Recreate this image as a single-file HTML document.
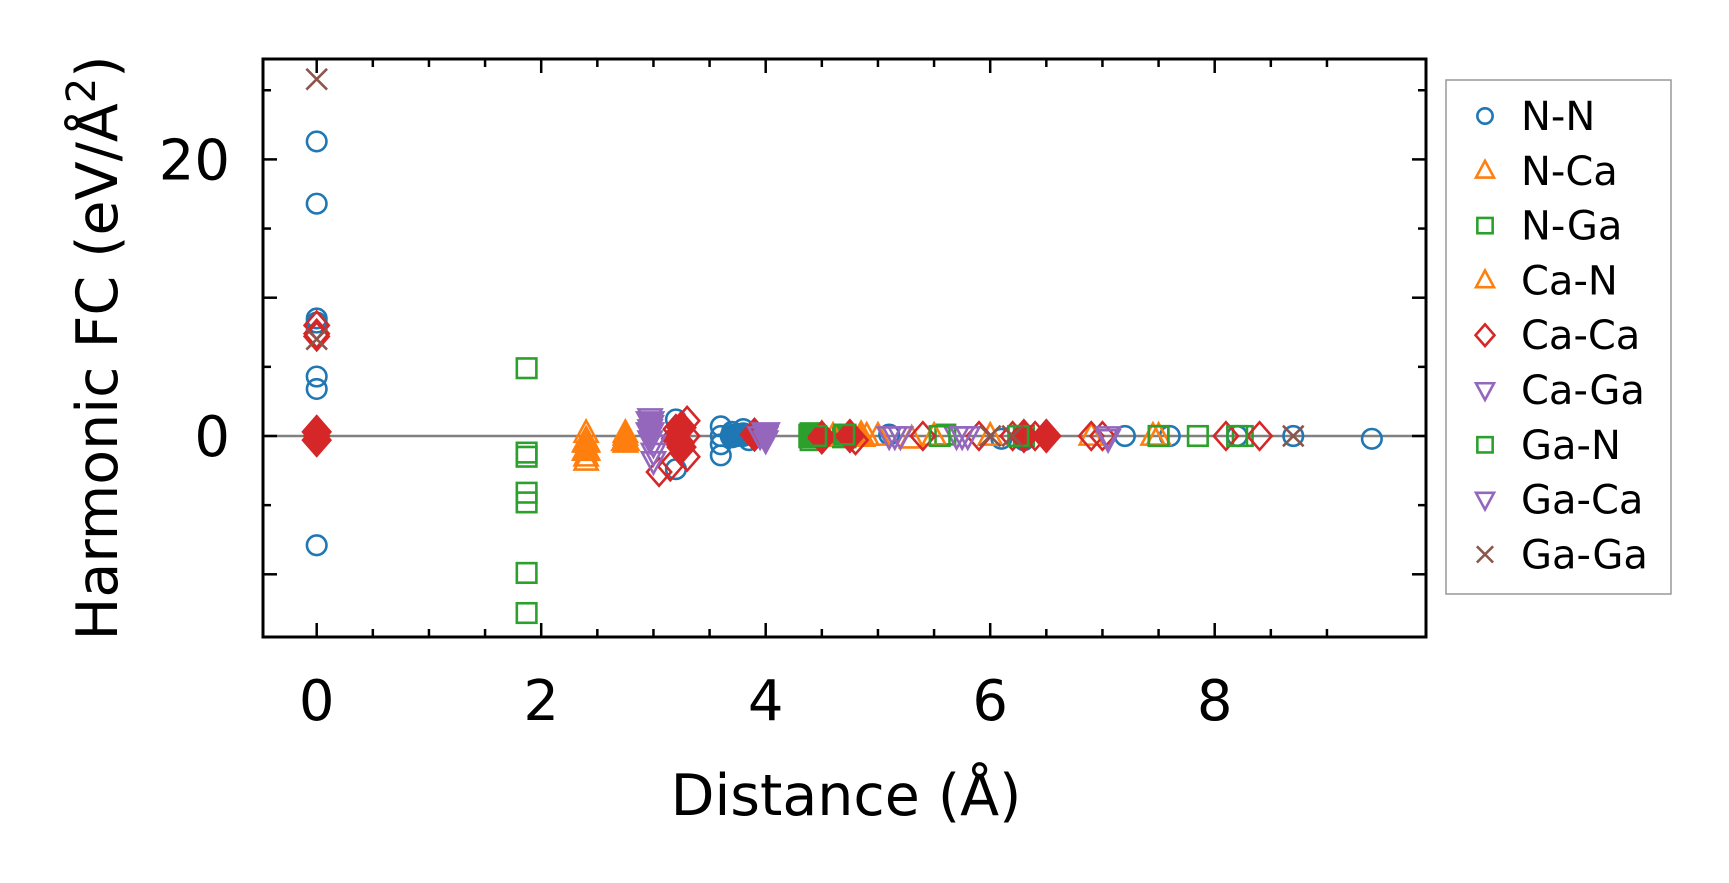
<!DOCTYPE html>
<html><head><meta charset="utf-8"><style>
html,body{margin:0;padding:0;background:#fff;}
svg{display:block;font-family:"DejaVu Sans","Liberation Sans",sans-serif;}
</style></head><body>
<svg id="chart" width="1729" height="883" viewBox="0 0 1729 883" xmlns="http://www.w3.org/2000/svg">
<rect width="1729" height="883" fill="#fff"/>
<g id="marks"></g>
<g id="axes"></g>
<g id="legend"></g>
</svg>
<script>
const xTicks=[0,2,4,6,8];
const yTicks=[0,20];
const seriesNames=["N-N","N-Ca","N-Ga","Ca-N","Ca-Ca","Ca-Ga","Ga-N","Ga-Ca","Ga-Ga"];
const nnPts=[[0,21.3],[0,16.8],[0,8.5],[0,8.2],[0,4.3],[0,3.4],[0,-7.9],[3.2,-2.4],[3.2,1.2],[3.6,0.7],[3.6,-1.4],[3.6,0],[3.6,-0.6],[3.7,0.3],[3.75,0],[3.8,0.5],[3.85,-0.3],[5.1,0.1],[6.1,-0.2],[6.3,-0.3],[7.2,0],[7.6,0],[8.2,0],[8.7,0],[9.4,-0.2]];
const nCaPts=[[2.4,0.2],[2.4,-0.5],[2.4,-1],[2.4,-1.5],[2.4,-1.8],[2.75,0.2],[2.75,-0.5],[4.5,0],[4.9,0],[5.3,-0.2],[6.9,0],[7.5,0]];
const nGaPts=[[1.87,4.9],[1.87,-1.2],[1.87,-1.5],[1.87,-4.1],[1.87,-4.8],[1.87,-9.9],[1.87,-12.8],[4.4,0.2],[4.4,-0.3],[4.7,0],[5.6,0.1],[6.3,0],[7.5,0],[7.85,0],[8.25,0]];
const caNPts=[[2.4,-0.3],[2.4,-1.1],[2.75,0],[4.6,0],[5.0,0],[5.5,0],[6.0,0],[7.45,0]];
const caCaPts=[[0,8],[0,7.4],[0,7.2],[0,0.4],[0,-0.4],[0,0],[3.05,-2.6],[3.15,-2.2],[3.3,1.1],[3.3,-1.5],[3.2,0.5],[3.25,-0.5],[3.2,0],[3.3,0],[3.9,0],[4.5,0],[4.8,-0.3],[5.4,0],[5.9,0],[6.2,0],[6.3,0],[6.4,0],[6.5,0],[6.9,0],[7.0,0],[8.1,0],[8.4,0]];
const caGaPts=[[2.97,1.3],[2.97,0.5],[2.97,-0.3],[3.0,-1.2],[3.0,-1.8],[4.0,0],[4.0,-0.3],[5.1,0],[5.2,0],[5.7,0],[5.8,0],[7.05,-0.2]];
const gaNPts=[[4.45,0],[4.7,0.1],[5.55,0],[6.25,0],[7.5,0],[8.2,0]];
const gaCaPts=[[2.98,0.8],[3.0,-0.6],[3.95,0],[5.15,0],[5.75,0],[7.05,0]];
const gaGaPts=[[0,25.8],[0,7],[6.0,0],[6.2,0],[8.7,0]];
// dense overlapping clusters (render filled)
const caCaCluster=[[0,0.3],[0,-0.3],[3.25,0.6],[3.25,-0.8],[3.2,-0.2],[3.9,0.1],[4.5,-0.1],[4.75,0],[6.3,0],[6.5,0]];
const nCaCluster=[[2.4,-0.4],[2.4,-1.0],[2.75,-0.3],[4.5,0],[4.85,0]];
const nnCluster=[[3.7,0],[3.8,0.1]];
const caGaCluster=[[2.97,1.0],[2.97,0.2],[4.0,0.2]];
const nGaCluster=[[4.4,0],[4.7,0]];

const X0=316.7,XU=112.25,Y0=436,YU=13.83;
const L=263,R=1426,T=59,B=637;
const sx=v=>X0+v*XU, sy=v=>Y0-v*YU;
const NS="http://www.w3.org/2000/svg";
function mk(tag,attrs,parent){const e=document.createElementNS(NS,tag);for(const k in attrs)e.setAttribute(k,attrs[k]);parent.appendChild(e);return e;}
const C={blue:"#1f77b4",orange:"#ff7f0e",green:"#2ca02c",red:"#d62728",purple:"#9467bd",brown:"#8c564b"};
function marker(shape,x,y,color,filled,parent,s){
  s=s||10;const f=filled?color:"none";let e;
  if(shape==="o"){e=mk("circle",{cx:x,cy:y,r:s*0.85,fill:f,stroke:color,"stroke-width":2.6},parent);}
  else if(shape==="^"){e=mk("polygon",{points:`${x},${y-s*1.1} ${x-s},${y+s*0.75} ${x+s},${y+s*0.75}`,fill:f,stroke:color,"stroke-width":2.6},parent);}
  else if(shape==="v"){e=mk("polygon",{points:`${x},${y+s*1.1} ${x-s},${y-s*0.75} ${x+s},${y-s*0.75}`,fill:f,stroke:color,"stroke-width":2.6},parent);}
  else if(shape==="s"){e=mk("rect",{x:x-s*0.85,y:y-s*0.85,width:s*1.7,height:s*1.7,fill:f,stroke:color,"stroke-width":2.6},parent);}
  else if(shape==="D"){e=mk("polygon",{points:`${x},${y-s*1.2} ${x+s*1.05},${y} ${x},${y+s*1.2} ${x-s*1.05},${y}`,fill:f,stroke:color,"stroke-width":2.6},parent);}
  else {e=mk("path",{d:`M${x-s*0.9},${y-s*0.9}L${x+s*0.9},${y+s*0.9}M${x-s*0.9},${y+s*0.9}L${x+s*0.9},${y-s*0.9}`,stroke:color,"stroke-width":2.6,fill:"none"},parent);}
  return e;
}
const marks=document.getElementById("marks");
const axes=document.getElementById("axes");
const legend=document.getElementById("legend");
const zl=mk("line",{x1:L,x2:R,y1:sy(0),y2:sy(0),stroke:"#808080","stroke-width":2.4},marks);


const groups=[
 ["N-N","o",C.blue,nnPts,nnCluster],
 ["N-Ca","^",C.orange,nCaPts,nCaCluster],
 ["N-Ga","s",C.green,nGaPts,nGaCluster],
 ["Ca-N","^",C.orange,caNPts,[]],
 ["Ca-Ca","D",C.red,caCaPts,caCaCluster],
 ["Ca-Ga","v",C.purple,caGaPts,caGaCluster],
 ["Ga-N","s",C.green,gaNPts,[]],
 ["Ga-Ca","v",C.purple,gaCaPts,[]],
 ["Ga-Ga","x",C.brown,gaGaPts,[]]
];
groups.forEach(([name,shape,color,pts,cl])=>{
  const g=mk("g",{},marks);
  
  
  cl.forEach(p=>{const e=marker(shape,sx(p[0]),sy(p[1]),color,true,g,13);
    
    });
  pts.forEach(p=>{const e=marker(shape,sx(p[0]),sy(p[1]),color,false,g,11.5);
    
    });
});
const fr=mk("rect",{x:L,y:T,width:R-L,height:B-T,fill:"none",stroke:"#000","stroke-width":3},axes);


for(let v=-0.5;v<=9.3;v+=0.5){const x=sx(v);if(x<L||x>R)continue;const major=Math.abs(v-Math.round(v/2)*2)<1e-6;const len=major?14:8;
  mk("line",{x1:x,x2:x,y1:B,y2:B-len,stroke:"#000","stroke-width":2.5},axes);
  mk("line",{x1:x,x2:x,y1:T,y2:T+len,stroke:"#000","stroke-width":2.5},axes);}
for(let v=-10;v<=25;v+=5){const y=sy(v);const major=v%10===0;const len=major?14:8;
  mk("line",{x1:L,x2:L+len,y1:y,y2:y,stroke:"#000","stroke-width":2.5},axes);
  mk("line",{x1:R,x2:R-len,y1:y,y2:y,stroke:"#000","stroke-width":2.5},axes);}
xTicks.forEach(v=>{const t=mk("text",{x:sx(v),y:720,"text-anchor":"middle","font-size":56},axes);t.textContent=v;
  
  });
yTicks.forEach(v=>{const t=mk("text",{x:230,y:sy(v)+20,"text-anchor":"end","font-size":56},axes);t.textContent=v;
  
  });
const xt=mk("text",{x:846,y:815,"text-anchor":"middle","font-size":57},axes);xt.textContent="Distance (Å)";


const yt=mk("text",{x:0,y:0,"text-anchor":"middle","font-size":57,transform:"translate(117,348) rotate(-90)"},axes);
yt.innerHTML='Harmonic FC (eV/Å<tspan font-size="40" dy="-22">2</tspan><tspan dy="22">)</tspan>';


const lb=mk("rect",{x:1446,y:80,width:225,height:514,fill:"#fff",stroke:"#999","stroke-width":1.5},legend);


groups.forEach(([name,shape,color],i)=>{const y=116+i*54.8;
  const g=mk("g",{},legend);
  
  
  marker(shape,1485,y,color,false,g,9);
  const t=mk("text",{x:1521,y:y+14,"font-size":40},g);t.textContent=name;});
</script>
</body></html>
